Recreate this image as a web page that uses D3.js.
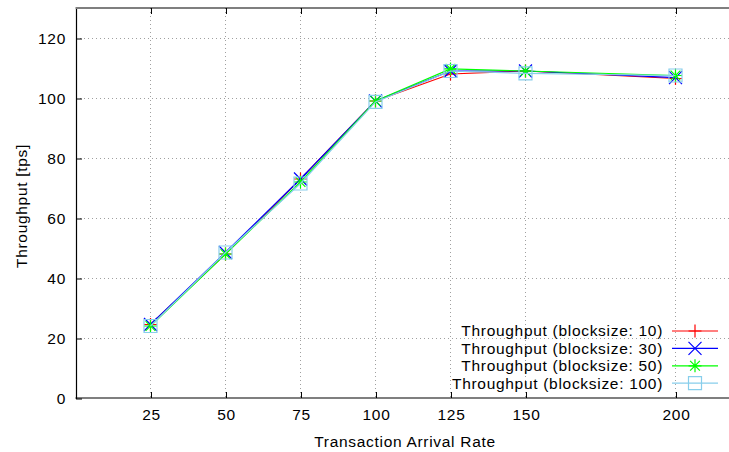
<!DOCTYPE html>
<html><head><meta charset="utf-8">
<script src="https://cdn.jsdelivr.net/npm/d3@7"></script>
<style>
html,body{margin:0;padding:0;background:#fff;}
text{font-family:"Liberation Sans",Arial,Helvetica,sans-serif;font-size:15.5px;letter-spacing:0.7px;fill:#000;}
</style></head>
<body>
<svg id="chart" width="729" height="452"></svg>
<script>
const arrivalRates = [25, 50, 75, 100, 125, 150, 200];
const xTickLabels = ["25", "50", "75", "100", "125", "150", "200"];
const yTicks = [0, 20, 40, 60, 80, 100, 120];
const seriesNames = ["Throughput (blocksize: 10)", "Throughput (blocksize: 30)", "Throughput (blocksize: 50)", "Throughput (blocksize: 100)"];
const block10 = [24.5, 48, 73, 99, 108, 109, 106.5];
const block30 = [24.5, 48.5, 73, 99, 109, 109, 106.8];
const block50 = [24, 48, 72, 99, 109.7, 109, 107.5];
const block100 = [24, 48.5, 71.5, 98.7, 109, 108.2, 107.5];
const seriesColors = ["#ff0000", "#0000ff", "#00ff00", "#87ceeb"];
const seriesMarkers = ["plus", "cross", "star", "square"];

(function () {
const series = [block10, block30, block50, block100].map((vals, i) => ({
  name: seriesNames[i], color: seriesColors[i], marker: seriesMarkers[i],
  points: vals.map((v, j) => ({x: arrivalRates[j], y: v}))
}));

const svg = d3.select("#chart");
const pLeft = 76, pTop = 8, pBottom = 398, pRight = 729;
const x = d3.scaleLinear().domain([0, 217.67]).range([75.5, 728.5]);
const y = d3.scaleLinear().domain([0, 130]).range([398, 8]);

// grid
const grid = svg.append("g");
arrivalRates.forEach(v => {
  grid.append("line").attr("x1", Math.round(x(v)) + 0.5).attr("x2", Math.round(x(v)) + 0.5)
    .attr("y1", pTop).attr("y2", pBottom).attr("stroke", "#a0a0a0").attr("stroke-width", 1).attr("stroke-dasharray", "1,3");
});
yTicks.slice(1).forEach(v => {
  grid.append("line").attr("x1", pLeft).attr("x2", pRight)
    .attr("y1", Math.round(y(v)) + 0.5).attr("y2", Math.round(y(v)) + 0.5)
    .attr("stroke", "#a0a0a0").attr("stroke-width", 1).attr("stroke-dasharray", "1,3");
});

// axes
const xAxis = d3.axisBottom(x).tickValues(arrivalRates).tickFormat((d, i) => xTickLabels[i]).tickSizeInner(-6).tickSizeOuter(0).tickPadding(11);
const gx = svg.append("g").attr("transform", `translate(0.5,${pBottom})`).call(xAxis);
const xTop = d3.axisTop(x).tickValues(arrivalRates).tickFormat("").tickSizeInner(-6).tickSizeOuter(0);
const gxt = svg.append("g").attr("transform", `translate(0.5,${pTop})`).call(xTop);
const yAxis = d3.axisLeft(y).tickValues(yTicks).tickSizeInner(-6).tickSizeOuter(0).tickPadding(10);
const gy = svg.append("g").attr("transform", `translate(${pLeft},0.5)`).call(yAxis);
[gx, gxt, gy].forEach(g => {
  g.attr("font-family", null).attr("font-size", null);
  g.selectAll("text").attr("fill", "#000");
  g.selectAll("line").attr("stroke", "#000");
  g.select(".domain").attr("stroke", "#000").attr("stroke-width", 1.2);
});
gx.select(".domain").attr("d", `M${pLeft - 1},0H${pRight}`);
gxt.select(".domain").attr("d", `M${pLeft - 1},0H${pRight}`);

// lines & markers
const line = d3.line().x(d => x(d.x)).y(d => y(d.y));
function drawMarker(g, type, cx, cy, color) {
  const s = 6.5;
  const p = g.append("path").attr("fill", "none").attr("stroke", color).attr("stroke-width", 1.2);
  if (type === "plus") p.attr("d", `M${cx - s},${cy}H${cx + s}M${cx},${cy - s}V${cy + s}`);
  else if (type === "cross") p.attr("d", `M${cx - s},${cy - s}L${cx + s},${cy + s}M${cx - s},${cy + s}L${cx + s},${cy - s}`);
  else if (type === "star") p.attr("d", `M${cx - s},${cy}H${cx + s}M${cx},${cy - s}V${cy + s}M${cx - s * 0.75},${cy - s * 0.75}L${cx + s * 0.75},${cy + s * 0.75}M${cx - s * 0.75},${cy + s * 0.75}L${cx + s * 0.75},${cy - s * 0.75}`);
  else if (type === "square") p.attr("d", `M${cx - s},${cy - s}h${2 * s}v${2 * s}h${-2 * s}Z`);
}
series.forEach(s => {
  const g = svg.append("g");
  g.append("path").datum(s.points).attr("d", line).attr("fill", "none").attr("stroke", s.color).attr("stroke-width", 1.2);
  s.points.forEach(p => drawMarker(g, s.marker, x(p.x), y(p.y), s.color));
});

// legend
const legY0 = 331, legDy = 17.4;
series.forEach((s, i) => {
  const ly = legY0 + i * legDy;
  svg.append("text").attr("x", 663).attr("y", ly).attr("dy", "0.35em").attr("text-anchor", "end").text(s.name);
  svg.append("line").attr("x1", 672).attr("x2", 718).attr("y1", ly).attr("y2", ly).attr("stroke", s.color).attr("stroke-width", 1.2);
  drawMarker(svg.append("g"), s.marker, 695, ly, s.color);
});

// axis titles
svg.append("text").attr("x", 405).attr("y", 447).attr("text-anchor", "middle").text("Transaction Arrival Rate");
svg.append("text").attr("transform", "translate(22,206) rotate(-90)").attr("dy", "0.35em").attr("text-anchor", "middle").text("Throughput [tps]");
})();
</script>
</body></html>
